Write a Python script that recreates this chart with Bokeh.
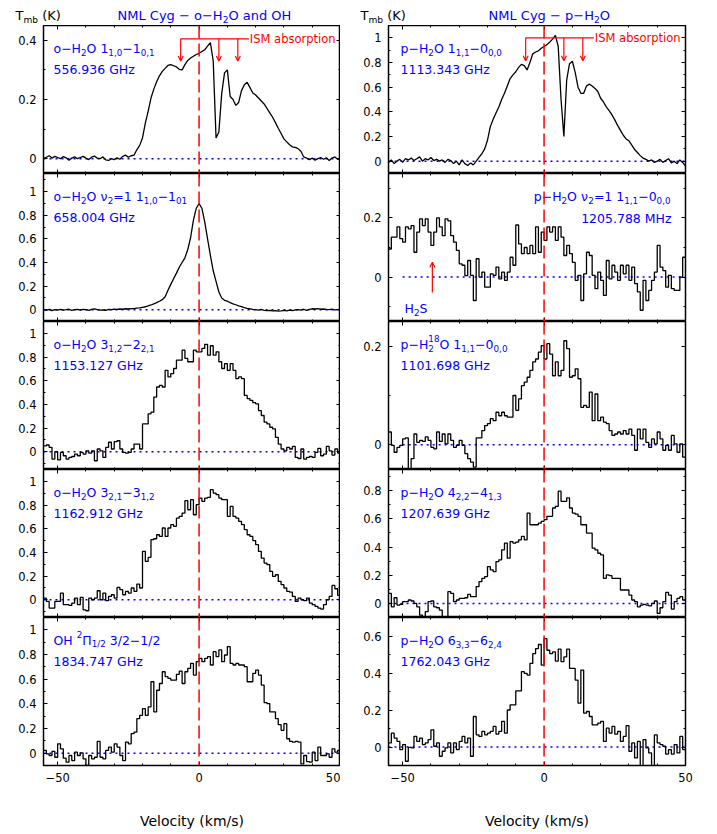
import numpy as np
from bokeh.plotting import figure
from bokeh.layouts import column, row
from bokeh.models import (Range1d, LinearAxis, FixedTicker, CustomJSTickFormatter,
                          Arrow, OpenHead, Span)
from bokeh.core.properties import value
from bokeh.embed import file_html
from bokeh.resources import INLINE

FONT = "DejaVu Sans"
BLUE = "#0000ff"
RED = "#ff0000"

# ---------------- data ----------------
# velocity grid of the high-resolution spectra (km/s)
fine_velocity = np.arange(-55, 51)
# 1 km/s channel edges of the binned spectra
channel_edges = np.arange(-55, 51)

o_h2o_557 = [0.0, 0.005, 0.01, 0.002, 0.008, 0.004, 0.0, 0.007, 0.003, -0.005, 0.002, 0.006, 0.0, 0.004,
             0.008, 0.002, -0.003, 0.005, 0.009, 0.002, 0.0, 0.006, -0.004, -0.006, 0.0, -0.003, 0.003,
             -0.002, 0.008, 0.012, 0.005, 0.01,
             0.012, 0.03, 0.045, 0.07, 0.12, 0.16, 0.205, 0.235, 0.26, 0.28, 0.295, 0.305, 0.315, 0.318,
             0.314, 0.31, 0.302, 0.3, 0.318, 0.332, 0.34, 0.346, 0.352, 0.356, 0.362, 0.368, 0.38, 0.392,
             0.33, 0.07, 0.09, 0.22, 0.29, 0.30, 0.21, 0.2, 0.18, 0.19, 0.23, 0.25, 0.258, 0.24, 0.222,
             0.215, 0.205, 0.195, 0.185, 0.17, 0.155, 0.14, 0.122, 0.103, 0.085, 0.067, 0.057, 0.047,
             0.04, 0.038, 0.034, 0.025, 0.006, 0.002, -0.003, 0.002, -0.005, 0.0, 0.004, -0.002, 0.003,
             -0.006, 0.002, 0.006, -0.002, 0.0]

p_h2o_1113 = [-0.01, 0.01, -0.02, 0.0, 0.015, -0.01, 0.02, 0.01, 0.025, 0.005, 0.02, 0.035, 0.0, 0.02,
              0.01, 0.03, 0.005, 0.015, 0.0, 0.01, -0.01, 0.015, 0.005, -0.02, 0.0, -0.03, 0.01, -0.02,
              -0.035, -0.015, -0.03, 0.0,
              0.03, 0.06, 0.1, 0.17, 0.28, 0.34, 0.39, 0.44, 0.5, 0.55, 0.61, 0.67, 0.7, 0.725, 0.76,
              0.785, 0.775, 0.74, 0.8, 0.87, 0.885, 0.895, 0.915, 0.93, 0.945, 0.965, 0.99, 1.02,
              0.93, 0.5, 0.2, 0.66, 0.79, 0.81, 0.72, 0.6, 0.55, 0.55, 0.61, 0.625, 0.61, 0.59, 0.565,
              0.51, 0.48, 0.44, 0.41, 0.375, 0.335, 0.29, 0.25, 0.21, 0.18, 0.165, 0.13, 0.095, 0.07,
              0.045, 0.025, 0.015, 0.0, 0.01, -0.01, 0.0, 0.015, -0.01, 0.005, 0.02, -0.015, 0.0, -0.02,
              0.01, -0.01, -0.04]

o_h2o_658 = [0.0, -0.005, 0.003, -0.008, 0.0, -0.004, 0.002, -0.003, 0.0, 0.004, -0.006, 0.0, 0.002,
             -0.004, 0.003, 0.0, -0.005, 0.002, 0.008, 0.0, -0.004, -0.002, -0.006, 0.002, 0.0, 0.004,
             0.003, 0.006, 0.004, 0.008, 0.006, 0.01,
             0.01, 0.014, 0.015, 0.02, 0.025, 0.032, 0.04, 0.05, 0.06, 0.072, 0.085, 0.11, 0.165, 0.215,
             0.263, 0.31, 0.36, 0.4, 0.44, 0.51, 0.61, 0.76, 0.86, 0.9,
             0.86, 0.745, 0.6, 0.46, 0.33, 0.24, 0.15, 0.1, 0.08, 0.072, 0.06, 0.05, 0.042, 0.033, 0.026,
             0.018, 0.012, 0.008, 0.003, 0.0, -0.004, 0.002, -0.006, -0.008, -0.005, -0.01, -0.008,
             -0.012, -0.01, -0.006, -0.01, -0.004, -0.008, -0.002, 0.0, -0.004, 0.004, -0.006, 0.002,
             0.008, 0.006, 0.01, 0.004, 0.006, 0.002, 0.0, 0.004, -0.002, 0.0, 0.002]

o_h2o_1153 = [0.05, 0.057, 0.037, -0.062, 0.0, -0.068, -0.006, -0.034, -0.062, -0.048,
              -0.04, -0.02, -0.034, -0.006, -0.02, 0.008, -0.011, 0.008, -0.076, 0.023,
              0.008, -0.048, 0.037, 0.08, 0.023, 0.085, 0.093, 0.023, -0.006, -0.011,
              -0.006, 0.023, 0.065, 0.065, 0.023, 0.235, 0.235, 0.32, 0.334, 0.462,
              0.547, 0.56, 0.547, 0.688, 0.632, 0.66, 0.703, 0.773, 0.773, 0.858,
              0.788, 0.76, 0.76, 0.858, 0.844, 0.844, 0.873, 0.907, 0.816, 0.895,
              0.816, 0.844, 0.76, 0.703, 0.745, 0.688, 0.745, 0.688, 0.618, 0.632,
              0.618, 0.476, 0.448, 0.433, 0.414, 0.405, 0.348, 0.306, 0.25, 0.235,
              0.207, 0.193, 0.122, 0.065, 0.023, 0.008, 0.037, 0.023, 0.045, -0.048,
              -0.057, 0.023, -0.062, -0.048, -0.04, -0.048, -0.006, 0.028, -0.034, -0.02,
              0.045, 0.008, -0.028, 0.023, -0.011]

o_h2o_1162 = [0.014, -0.014, -0.07, -0.07, -0.014, -0.014, 0.056, -0.042, -0.042, -0.048,
              -0.028, 0.014, -0.042, 0.02, -0.085, -0.093, 0.014, 0.0, 0.014, 0.076,
              0.0, 0.056, -0.008, 0.028, 0.042, 0.014, 0.104, 0.085, 0.042, 0.07,
              0.056, 0.099, 0.07, 0.132, 0.099, 0.408, 0.324, 0.358, 0.507, 0.515,
              0.549, 0.535, 0.606, 0.535, 0.606, 0.634, 0.62, 0.69, 0.704, 0.732,
              0.837, 0.76, 0.845, 0.718, 0.803, 0.859, 0.831, 0.859, 0.865, 0.93,
              0.901, 0.887, 0.859, 0.845, 0.845, 0.704, 0.789, 0.704, 0.69, 0.662,
              0.634, 0.592, 0.549, 0.535, 0.499, 0.465, 0.408, 0.352, 0.31, 0.296,
              0.239, 0.197, 0.211, 0.155, 0.127, 0.099, 0.07, 0.065, 0.028, -0.014,
              0.014, 0.0, -0.008, 0.014, -0.028, -0.042, -0.056, -0.07, -0.079, -0.042,
              0.0, 0.028, 0.121, 0.093, 0.037]

oh_1834 = [0.022, -0.005, -0.019, 0.014, -0.033, 0.076, 0.035, -0.041, -0.073, -0.019,
           -0.06, 0.008, -0.019, 0.003, -0.046, -0.1, -0.019, -0.046, -0.033, 0.095,
           -0.033, -0.046, 0.022, 0.049, 0.008, 0.076, 0.049, -0.019, -0.06, 0.09,
           0.076, 0.158, 0.171, 0.28, 0.307, 0.361, 0.307, 0.375, 0.579, 0.334,
           0.51, 0.565, 0.66, 0.62, 0.606, 0.592, 0.592, 0.639, 0.666, 0.565,
           0.66, 0.688, 0.728, 0.633, 0.742, 0.769, 0.742, 0.769, 0.783, 0.715,
           0.823, 0.783, 0.837, 0.742, 0.796, 0.864, 0.728, 0.715, 0.728, 0.715,
           0.715, 0.701, 0.579, 0.579, 0.647, 0.674, 0.633, 0.552, 0.41, 0.402,
           0.334, 0.334, 0.28, 0.231, 0.185, 0.239, 0.117, 0.095, 0.09, 0.095,
           0.09, -0.087, -0.019, -0.068, -0.073, 0.008, -0.06, 0.049, -0.019, -0.019,
           -0.005, -0.033, 0.035, 0.008, 0.022]

p_h2o_v2_1205 = [0.095, 0.135, 0.135, 0.17, 0.13, 0.118, 0.17, 0.163, 0.174, 0.084,
                 0.152, 0.197, 0.174, 0.197, 0.152, 0.107, 0.152, 0.2, 0.17, 0.14,
                 0.197, 0.19, 0.14, 0.118, 0.09, 0.045, 0.04, 0.005, 0.056, 0.006,
                 -0.079, 0.062, 0.0, 0.017, -0.034, -0.034, 0.011, 0.006, 0.034, -0.006,
                 0.017, -0.011, 0.017, 0.067, 0.04, 0.176, 0.112, 0.079, 0.1, 0.079,
                 0.107, 0.079, 0.17, 0.084, 0.152, 0.124, 0.17, 0.152, 0.17, 0.124,
                 0.17, 0.135, 0.073, 0.107, 0.079, 0.05, -0.011, 0.006, -0.079, 0.011,
                 0.084, 0.073, 0.006, -0.039, 0.017, -0.011, -0.062, 0.056, -0.006, 0.04,
                 0.017, -0.011, 0.04, 0.011, 0.04, -0.011, 0.034, -0.022, -0.05, -0.112,
                 -0.011, -0.079, -0.045, -0.011, 0.017, 0.107, 0.034, 0.022, -0.034, 0.006,
                 -0.039, -0.045, -0.045, 0.0, 0.067]

p_h218o_1101 = [0.026, -0.001, -0.015, -0.005, -0.001, 0.012, 0.014, -0.049, -0.028, 0.022,
                0.005, 0.009, 0.007, 0.016, 0.009, -0.005, -0.008, 0.026, 0.007, 0.022,
                0.002, 0.022, 0.009, -0.005, -0.001, 0.009, -0.001, -0.018, -0.028, -0.035,
                -0.045, 0.014, 0.014, 0.029, 0.039, 0.043, 0.053, 0.049, 0.066, 0.059,
                0.066, 0.059, 0.056, 0.056, 0.1, 0.07, 0.093, 0.12, 0.127, 0.137,
                0.151, 0.168, 0.174, 0.188, 0.201, 0.174, 0.205, 0.184, 0.14, 0.168,
                0.14, 0.151, 0.211, 0.195, 0.137, 0.14, 0.154, 0.134, 0.076, 0.08,
                0.076, 0.107, 0.049, 0.103, 0.049, 0.056, 0.046, 0.043, 0.029, 0.019,
                0.022, 0.026, 0.022, 0.029, 0.022, 0.032, 0.019, -0.011, 0.032, 0.012,
                0.032, 0.005, -0.005, 0.012, 0.002, 0.026, 0.012, -0.011, -0.001, -0.011,
                0.019, 0.002, -0.015, 0.002, -0.025]

p_h2o_1207 = [0.071, -0.024, 0.04, -0.012, -0.007, 0.012, 0.012, 0.024, 0.017, 0.0,
              -0.024, -0.083, -0.095, -0.059, 0.012, 0.017, -0.024, -0.031, -0.048, -0.095,
              -0.095, 0.083, 0.071, 0.012, 0.024, 0.036, 0.036, 0.04, 0.064, 0.048,
              0.048, 0.119, 0.154, 0.178, 0.19, 0.261, 0.238, 0.226, 0.297, 0.309,
              0.38, 0.428, 0.321, 0.439, 0.428, 0.435, 0.451, 0.475, 0.451, 0.641,
              0.558, 0.558, 0.558, 0.57, 0.582, 0.594, 0.618, 0.618, 0.677, 0.689,
              0.796, 0.724, 0.724, 0.748, 0.677, 0.641, 0.634, 0.618, 0.558, 0.558,
              0.499, 0.499, 0.392, 0.38, 0.356, 0.344, 0.178, 0.202, 0.197, 0.178,
              0.178, 0.178, 0.095, 0.095, 0.095, 0.059, 0.024, 0.012, -0.024, -0.012,
              -0.007, -0.012, -0.017, 0.0, 0.017, -0.071, -0.031, 0.012, 0.078, 0.059,
              -0.04, 0.012, 0.036, 0.048, 0.024]

p_h2o_1762 = [0.022, 0.075, 0.048, 0.03, -0.014, 0.013, -0.077, -0.002, -0.005, 0.057,
              0.03, 0.048, 0.013, 0.022, 0.04, 0.093, 0.004, 0.022, -0.05, -0.023,
              -0.005, 0.022, -0.032, 0.022, -0.014, 0.03, 0.057, 0.022, 0.048, -0.05,
              0.165, 0.066, 0.057, 0.084, 0.066, 0.075, 0.084, 0.111, 0.07, 0.084,
              0.138, 0.075, 0.2, 0.228, 0.228, 0.303, 0.303, 0.407, 0.398, 0.389,
              0.452, 0.505, 0.532, 0.554, 0.443, 0.586, 0.523, 0.505, 0.514, 0.464,
              0.529, 0.461, 0.487, 0.529, 0.425, 0.425, 0.362, 0.237, 0.416, 0.183,
              0.192, 0.165, 0.12, 0.12, 0.129, 0.138, 0.03, 0.102, 0.075, 0.111,
              0.07, 0.084, 0.03, 0.057, 0.116, -0.023, 0.022, -0.059, 0.03, -0.113,
              0.04, -0.005, -0.032, -0.113, 0.066, 0.022, 0.013, 0.004, -0.038, -0.014,
              -0.038, 0.013, -0.032, 0.057, -0.014]

ism_velocities = [-6.5, 7.0, 13.7]     # ISM absorption marks (km/s)
h2s_velocity = -39.5                   # H2S line position (km/s)

x_major = [-50, 0, 50]
x_minor = [-40, -30, -20, -10, 10, 20, 30, 40]

# y ranges and ticks per panel  (column 0 = left, column 1 = right)
y_ranges = {(0, 0): (-0.05, 0.45), (0, 1): (-0.1, 1.1),
            (1, 0): (-0.1, 1.155), (1, 1): (-0.15, 0.35),
            (2, 0): (-0.15, 1.1), (2, 1): (-0.05, 0.25),
            (3, 0): (-0.15, 1.1), (3, 1): (-0.1, 0.95),
            (4, 0): (-0.1, 1.1), (4, 1): (-0.1, 0.7)}
y_major = {(0, 0): [0, 0.2, 0.4], (0, 1): [0, 0.2, 0.4, 0.6, 0.8, 1],
           (1, 0): [0, 0.2, 0.4, 0.6, 0.8, 1], (1, 1): [0, 0.2],
           (2, 0): [0, 0.2, 0.4, 0.6, 0.8, 1], (2, 1): [0, 0.2],
           (3, 0): [0, 0.2, 0.4, 0.6, 0.8, 1], (3, 1): [0, 0.2, 0.4, 0.6, 0.8],
           (4, 0): [0, 0.2, 0.4, 0.6, 0.8, 1], (4, 1): [0, 0.2, 0.4, 0.6]}
y_minor = {(0, 0): [0.1, 0.3], (0, 1): [0.1, 0.3, 0.5, 0.7, 0.9],
           (1, 0): [0.1, 0.3, 0.5, 0.7, 0.9, 1.1], (1, 1): [-0.1, 0.1, 0.3],
           (2, 0): [-0.1, 0.1, 0.3, 0.5, 0.7, 0.9], (2, 1): [0.1],
           (3, 0): [-0.1, 0.1, 0.3, 0.5, 0.7, 0.9], (3, 1): [0.1, 0.3, 0.5, 0.7, 0.9],
           (4, 0): [0.1, 0.3, 0.5, 0.7, 0.9], (4, 1): [0.1, 0.3, 0.5]}

spectra = {(0, 0): ("fine", o_h2o_557), (0, 1): ("fine", p_h2o_1113),
           (1, 0): ("fine", o_h2o_658), (1, 1): ("step", p_h2o_v2_1205),
           (2, 0): ("step", o_h2o_1153), (2, 1): ("step", p_h218o_1101),
           (3, 0): ("step", o_h2o_1162), (3, 1): ("step", p_h2o_1207),
           (4, 0): ("step", oh_1834), (4, 1): ("step", p_h2o_1762)}

zero_line = {(1, 1): [-50, 50], (2, 1): [-50, 50]}

N, SUB, SUP, SS = "n", "sub", "sup", "subsup"
labels = {
    (0, 0): ([("o−H", N), ("2", SUB), ("O 1", N), ("1,0", SUB), ("−1", N), ("0,1", SUB)], "556.936 GHz"),
    (1, 0): ([("o−H", N), ("2", SUB), ("O ν", N), ("2", SUB), ("=1 1", N), ("1,0", SUB), ("−1", N), ("01", SUB)], "658.004 GHz"),
    (2, 0): ([("o−H", N), ("2", SUB), ("O 3", N), ("1,2", SUB), ("−2", N), ("2,1", SUB)], "1153.127 GHz"),
    (3, 0): ([("o−H", N), ("2", SUB), ("O 3", N), ("2,1", SUB), ("−3", N), ("1,2", SUB)], "1162.912 GHz"),
    (4, 0): ([("OH ", N), ("2", SUP), ("Π", N), ("1/2", SUB), (" 3/2−1/2", N)], "1834.747 GHz"),
    (0, 1): ([("p−H", N), ("2", SUB), ("O 1", N), ("1,1", SUB), ("−0", N), ("0,0", SUB)], "1113.343 GHz"),
    (1, 1): ([("p−H", N), ("2", SUB), ("O ν", N), ("2", SUB), ("=1 1", N), ("1,1", SUB), ("−0", N), ("0,0", SUB)], "1205.788 MHz"),
    (2, 1): ([("p−H", N), (("2", "18"), SS), ("O 1", N), ("1,1", SUB), ("−0", N), ("0,0", SUB)], "1101.698 GHz"),
    (3, 1): ([("p−H", N), ("2", SUB), ("O 4", N), ("2,2", SUB), ("−4", N), ("1,3", SUB)], "1207.639 GHz"),
    (4, 1): ([("p−H", N), ("2", SUB), ("O 6", N), ("3,3", SUB), ("−6", N), ("2,4", SUB)], "1762.043 GHz"),
}
titles = [[("NML Cyg − o−H", N), ("2", SUB), ("O and OH", N)],
          [("NML Cyg − p−H", N), ("2", SUB), ("O", N)]]
y_title = [("T", N), ("mb", SUB), (" (K)", N)]
x_title = "Velocity (km/s)"

# ---------------- text helpers ----------------
CW = {" ": .318, "(": .390, ")": .390, ",": .318, "-": .361, ".": .318, "/": .337, "=": .838,
      "A": .684, "B": .686, "C": .698, "G": .776, "H": .752, "I": .295, "K": .656, "L": .557,
      "M": .863, "N": .748, "O": .787, "S": .635, "T": .611, "V": .684,
      "a": .613, "b": .635, "c": .550, "d": .635, "e": .615, "g": .635, "h": .634, "i": .278,
      "k": .579, "l": .278, "m": .974, "n": .634, "o": .612, "p": .635, "r": .411, "s": .521,
      "t": .392, "y": .592, "z": .525, "−": .838, "ν": .592, "Π": .752}
for d in "0123456789":
    CW[d] = .636


def tw(s, size):
    return sum(CW.get(c, .62) for c in s) * size


def seg_width(t, k, size):
    small = size * 0.7
    if k == N:
        return tw(t, size)
    if k == SS:
        return max(tw(t[0], small), tw(t[1], small))
    return tw(t, small)


def rich(p, x, y, segs, size, color, dx, dy, align="left"):
    small = size * 0.7
    total = sum(seg_width(t, k, size) for t, k in segs)
    cx = dx - total if align == "right" else dx
    for t, k in segs:
        if k == N:
            parts = [(t, size, 0.0)]
        elif k == SUB:
            parts = [(t, small, 0.32 * size)]
        elif k == SUP:
            parts = [(t, small, -0.45 * size)]
        else:
            parts = [(t[0], small, 0.32 * size), (t[1], small, -0.45 * size)]
        for txt, fs, off in parts:
            stripped = txt.lstrip(" ")
            lead = tw(" " * (len(txt) - len(stripped)), fs)
            p.text(x=[x], y=[y], text=[stripped.rstrip(" ")], x_offset=cx + lead, y_offset=dy + off,
                   text_font=value(FONT), text_font_size=f"{fs:.2f}px", text_color=color,
                   text_align="left", text_baseline="alphabetic")
        cx += seg_width(t, k, size)


TICK_FMT = r"""var s = (Math.round(tick*1000)/1000).toString(); return s.replace('-', '\u2212');"""


def style_axis(ax, major, minor, show):
    ax.ticker = FixedTicker(ticks=major, minor_ticks=minor)
    ax.axis_line_color = None
    ax.major_tick_in = 4
    ax.major_tick_out = 0
    ax.minor_tick_in = 2
    ax.minor_tick_out = 0
    ax.major_tick_line_color = "black"
    ax.minor_tick_line_color = "black"
    ax.major_tick_line_width = 1
    ax.minor_tick_line_width = 1
    if show:
        ax.formatter = CustomJSTickFormatter(code=TICK_FMT)
        ax.major_label_text_font = FONT
        ax.major_label_text_font_size = "11.5px"
        ax.major_label_text_color = "black"
        ax.major_label_standoff = 7
    else:
        ax.formatter = CustomJSTickFormatter(code="return '';")
        ax.major_label_text_font_size = "0px"
        ax.major_label_standoff = 0


FW, FH = 297, 148
XR = (-55, 50)
LEFT_BORDER = {0: 43, 1: 48}
RIGHT_BORDER = {0: 0, 1: 12}


def make_panel(r, c):
    key = (r, c)
    lo, hi = y_ranges[key]
    bottom = (r == 4)
    p = figure(frame_width=FW, frame_height=FH, x_range=Range1d(*XR), y_range=Range1d(lo, hi),
               output_backend="svg", toolbar_location=None,
               x_axis_location=None, y_axis_location=None,
               min_border_left=LEFT_BORDER[c], min_border_right=RIGHT_BORDER[c],
               min_border_top=0, min_border_bottom=0,
               outline_line_color="black", outline_line_width=1.5,
               background_fill_color="white", border_fill_color="white")
    p.grid.visible = False

    ax_b = LinearAxis()
    style_axis(ax_b, x_major, x_minor, bottom)
    if bottom:
        ax_b.axis_label = x_title
        ax_b.axis_label_text_font = FONT
        ax_b.axis_label_text_font_size = "14px"
        ax_b.axis_label_text_font_style = "normal"
        ax_b.axis_label_text_color = "black"
        ax_b.axis_label_standoff = 28
    p.add_layout(ax_b, "below")
    ax_t = LinearAxis()
    style_axis(ax_t, x_major, x_minor, False)
    p.add_layout(ax_t, "above")
    ax_l = LinearAxis()
    style_axis(ax_l, y_major[key], y_minor[key], True)
    p.add_layout(ax_l, "left")
    ax_r = LinearAxis()
    style_axis(ax_r, y_major[key], y_minor[key], False)
    p.add_layout(ax_r, "right")

    # zero line
    zx = zero_line.get(key, list(XR))
    p.line(x=zx, y=[0, 0], line_color=BLUE, line_dash="2 4", line_width=1.5)

    kind, vals = spectra[key]
    if kind == "fine":
        p.line(x=fine_velocity, y=vals, line_color="black", line_width=1.3)
    else:
        xs = np.repeat(channel_edges, 2)[1:-1]
        ys = np.repeat(np.asarray(vals), 2)
        p.line(x=xs, y=ys, line_color="black", line_width=1.3)

    # systemic velocity
    p.add_layout(Span(location=0, dimension="height", line_color=RED, line_dash="13 5",
                      line_width=1.5))

    segs, freq = labels[key]
    lx = 10 if c == 0 else 12
    if key == (1, 1):
        rich(p, XR[1], hi, segs, 12.5, BLUE, -15, 22.5, align="right")
        rich(p, XR[1], hi, [(freq, N)], 12.5, BLUE, -14, 44.5, align="right")
        # H2S marker
        p.add_layout(Arrow(end=OpenHead(size=5, line_color=RED, line_width=1.2),
                           x_start=h2s_velocity, y_start=-0.052, x_end=h2s_velocity, y_end=0.05,
                           line_color=RED, line_width=1.2))
        rich(p, XR[0], lo, [("H", N), ("2", SUB), ("S", N)], 12.5, BLUE, 16, -13.5)
    else:
        rich(p, XR[0], hi, segs, 12.5, BLUE, lx, 22.5)
        rich(p, XR[0], hi, [(freq, N)], 12.5, BLUE, lx, 44.0)

    if r == 0:
        ism_y, ism_tip = (0.405, 0.33) if c == 0 else (1.0, 0.815)
        lab_v = 17.6
        p.line(x=[ism_velocities[0], lab_v], y=[ism_y, ism_y], line_color=RED, line_width=1.2)
        for v in ism_velocities:
            p.add_layout(Arrow(end=OpenHead(size=5, line_color=RED, line_width=1.2),
                               x_start=v, y_start=ism_y, x_end=v, y_end=ism_tip,
                               line_color=RED, line_width=1.2))
        p.text(x=[lab_v], y=[ism_y], text=["ISM absorption"], x_offset=1,
               text_font=value(FONT), text_font_size="11.5px", text_color=RED,
               text_align="left", text_baseline="middle")
    return p


HW = LEFT_BORDER[0] + FW + LEFT_BORDER[1] + FW + RIGHT_BORDER[1]
HH = 25
hdr = figure(width=HW, height=HH, x_range=Range1d(0, HW), y_range=Range1d(HH, 0),
             output_backend="svg", toolbar_location=None,
             x_axis_location=None, y_axis_location=None, min_border=0,
             outline_line_color=None, background_fill_color="white", border_fill_color="white")
hdr.grid.visible = False
rich(hdr, 15, 15, y_title, 13, "black", 0, 0)
rich(hdr, 360, 15, y_title, 13, "black", 0, 0)
rich(hdr, 117, 15, titles[0], 13, BLUE, 0, 0)
rich(hdr, 488, 15, titles[1], 13, BLUE, 0, 0)

rows = [row(make_panel(r, 0), make_panel(r, 1)) for r in range(5)]
layout = column(hdr, *rows)

open("out.html", "w").write(file_html(layout, INLINE))
